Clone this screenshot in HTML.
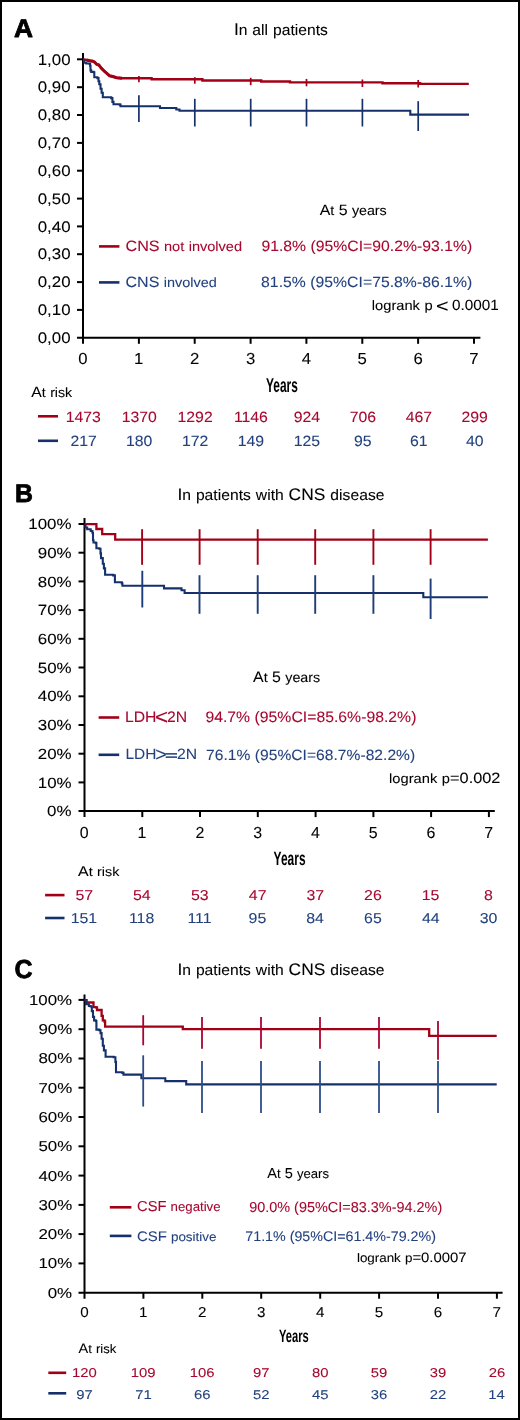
<!DOCTYPE html>
<html><head><meta charset="utf-8"><title>Kaplan-Meier curves</title>
<style>html,body{margin:0;padding:0;background:#fff;width:520px;height:1420px;overflow:hidden;}svg text{text-rendering:geometricPrecision;}svg{filter:contrast(1)}body{font-family:"Liberation Sans", sans-serif;}</style></head><body>
<svg width="520" height="1420" viewBox="0 0 520 1420" style='display:block;font-family:"Liberation Sans", sans-serif'>
<rect x="0" y="0" width="520" height="1420" fill="#fff"/>
<rect x="1" y="1" width="518" height="1418" fill="none" stroke="#000" stroke-width="2"/>
<text transform="translate(13.94 37.30) scale(0.1)" font-size="256.5" fill="#000" stroke="#000" stroke-width="8.00" stroke-linejoin="round" textLength="190.8" lengthAdjust="spacingAndGlyphs" font-weight="bold">A</text>
<text transform="translate(233.93 34.90) scale(0.1)" font-size="169.6" fill="#000" stroke="#000" stroke-width="0.80" textLength="940.1" lengthAdjust="spacingAndGlyphs">I<tspan font-size="152.6">n</tspan> <tspan font-size="152.6">all</tspan> <tspan font-size="152.6">patients</tspan></text>
<line x1="83.0" y1="53.0" x2="83.0" y2="343.8" stroke="#000" stroke-width="2"/>
<line x1="77.0" y1="337.8" x2="480.4" y2="337.8" stroke="#000" stroke-width="2"/>
<line x1="77.0" y1="309.9" x2="83.0" y2="309.9" stroke="#000" stroke-width="2"/>
<line x1="77.0" y1="282.1" x2="83.0" y2="282.1" stroke="#000" stroke-width="2"/>
<line x1="77.0" y1="254.2" x2="83.0" y2="254.2" stroke="#000" stroke-width="2"/>
<line x1="77.0" y1="226.4" x2="83.0" y2="226.4" stroke="#000" stroke-width="2"/>
<line x1="77.0" y1="198.6" x2="83.0" y2="198.6" stroke="#000" stroke-width="2"/>
<line x1="77.0" y1="170.7" x2="83.0" y2="170.7" stroke="#000" stroke-width="2"/>
<line x1="77.0" y1="142.9" x2="83.0" y2="142.9" stroke="#000" stroke-width="2"/>
<line x1="77.0" y1="115.0" x2="83.0" y2="115.0" stroke="#000" stroke-width="2"/>
<line x1="77.0" y1="87.2" x2="83.0" y2="87.2" stroke="#000" stroke-width="2"/>
<line x1="77.0" y1="59.3" x2="83.0" y2="59.3" stroke="#000" stroke-width="2"/>
<line x1="138.9" y1="337.8" x2="138.9" y2="343.8" stroke="#000" stroke-width="2"/>
<line x1="194.7" y1="337.8" x2="194.7" y2="343.8" stroke="#000" stroke-width="2"/>
<line x1="250.6" y1="337.8" x2="250.6" y2="343.8" stroke="#000" stroke-width="2"/>
<line x1="306.4" y1="337.8" x2="306.4" y2="343.8" stroke="#000" stroke-width="2"/>
<line x1="362.3" y1="337.8" x2="362.3" y2="343.8" stroke="#000" stroke-width="2"/>
<line x1="418.1" y1="337.8" x2="418.1" y2="343.8" stroke="#000" stroke-width="2"/>
<line x1="474.0" y1="337.8" x2="474.0" y2="343.8" stroke="#000" stroke-width="2"/>
<text transform="translate(37.74 343.00) scale(0.1)" font-size="153.0" fill="#000" stroke="#000" stroke-width="0.80" textLength="327.6" lengthAdjust="spacingAndGlyphs">0,00</text>
<text transform="translate(37.74 315.15) scale(0.1)" font-size="153.0" fill="#000" stroke="#000" stroke-width="0.80" textLength="327.6" lengthAdjust="spacingAndGlyphs">0,10</text>
<text transform="translate(37.74 287.30) scale(0.1)" font-size="153.0" fill="#000" stroke="#000" stroke-width="0.80" textLength="327.6" lengthAdjust="spacingAndGlyphs">0,20</text>
<text transform="translate(37.74 259.45) scale(0.1)" font-size="153.0" fill="#000" stroke="#000" stroke-width="0.80" textLength="327.6" lengthAdjust="spacingAndGlyphs">0,30</text>
<text transform="translate(37.74 231.60) scale(0.1)" font-size="153.0" fill="#000" stroke="#000" stroke-width="0.80" textLength="327.6" lengthAdjust="spacingAndGlyphs">0,40</text>
<text transform="translate(37.74 203.75) scale(0.1)" font-size="153.0" fill="#000" stroke="#000" stroke-width="0.80" textLength="327.6" lengthAdjust="spacingAndGlyphs">0,50</text>
<text transform="translate(37.74 175.90) scale(0.1)" font-size="153.0" fill="#000" stroke="#000" stroke-width="0.80" textLength="327.6" lengthAdjust="spacingAndGlyphs">0,60</text>
<text transform="translate(37.74 148.05) scale(0.1)" font-size="153.0" fill="#000" stroke="#000" stroke-width="0.80" textLength="327.6" lengthAdjust="spacingAndGlyphs">0,70</text>
<text transform="translate(37.74 120.20) scale(0.1)" font-size="153.0" fill="#000" stroke="#000" stroke-width="0.80" textLength="327.6" lengthAdjust="spacingAndGlyphs">0,80</text>
<text transform="translate(37.74 92.35) scale(0.1)" font-size="153.0" fill="#000" stroke="#000" stroke-width="0.80" textLength="327.6" lengthAdjust="spacingAndGlyphs">0,90</text>
<text transform="translate(37.74 64.50) scale(0.1)" font-size="153.0" fill="#000" stroke="#000" stroke-width="0.80" textLength="327.6" lengthAdjust="spacingAndGlyphs">1,00</text>
<text transform="translate(78.34 364.20) scale(0.1)" font-size="160.0" fill="#000" stroke="#000" stroke-width="0.80" textLength="93.4" lengthAdjust="spacingAndGlyphs">0</text>
<text transform="translate(133.99 364.20) scale(0.1)" font-size="160.0" fill="#000" stroke="#000" stroke-width="0.80" textLength="93.4" lengthAdjust="spacingAndGlyphs">1</text>
<text transform="translate(190.05 364.20) scale(0.1)" font-size="160.0" fill="#000" stroke="#000" stroke-width="0.80" textLength="93.4" lengthAdjust="spacingAndGlyphs">2</text>
<text transform="translate(245.95 364.20) scale(0.1)" font-size="160.0" fill="#000" stroke="#000" stroke-width="0.80" textLength="93.4" lengthAdjust="spacingAndGlyphs">3</text>
<text transform="translate(301.81 364.20) scale(0.1)" font-size="160.0" fill="#000" stroke="#000" stroke-width="0.80" textLength="93.4" lengthAdjust="spacingAndGlyphs">4</text>
<text transform="translate(357.62 364.20) scale(0.1)" font-size="160.0" fill="#000" stroke="#000" stroke-width="0.80" textLength="93.4" lengthAdjust="spacingAndGlyphs">5</text>
<text transform="translate(413.44 364.20) scale(0.1)" font-size="160.0" fill="#000" stroke="#000" stroke-width="0.80" textLength="93.4" lengthAdjust="spacingAndGlyphs">6</text>
<text transform="translate(469.34 364.20) scale(0.1)" font-size="160.0" fill="#000" stroke="#000" stroke-width="0.80" textLength="93.4" lengthAdjust="spacingAndGlyphs">7</text>
<polyline points="83.0,59.3 86.6,60.0 89.7,60.8 92.8,61.2 94.7,62.3 96.6,64.2 98.9,65.0 101.2,68.1 104.3,71.2 107.4,73.8 109.7,75.8 112.8,76.5 116.6,77.7 122.0,78.3 151.6,78.3 151.6,79.3 202.4,79.3 202.4,80.5 261.2,80.5 261.2,81.5 290.0,81.5 290.0,82.4 382.5,82.4 382.5,83.2 420.0,83.2 420.0,83.9 468.8,83.9" fill="none" stroke="#a20016" stroke-width="2.4" stroke-linejoin="miter" stroke-linecap="butt"/>
<polyline points="86.6,60.0 89.7,60.8 92.8,61.2 94.7,62.3 96.6,64.2 98.9,65.0 101.2,68.1 104.3,71.2 107.4,73.8 109.7,75.8 112.8,76.5 116.6,77.7 122.0,78.3" fill="none" stroke="#a20016" stroke-width="3.0" stroke-linejoin="miter" stroke-linecap="butt"/>
<polyline points="83.0,60.5 84.3,60.5 84.3,62.7 86.2,62.7 86.2,63.5 89.3,63.5 89.3,63.8 90.1,63.8 90.1,65.8 90.5,65.8 90.5,70.4 91.2,70.4 91.2,71.9 93.5,71.9 93.5,72.3 94.3,72.3 94.3,77.3 97.4,77.3 97.4,78.1 98.5,78.1 98.5,81.2 99.3,81.2 99.3,84.2 100.5,84.2 100.5,88.8 101.6,88.8 101.6,92.7 102.8,92.7 102.8,97.3 111.2,97.3 111.2,98.1 112.4,98.1 112.4,101.9 113.5,101.9 113.5,104.2 119.7,104.2 119.7,104.6 120.5,104.6 120.5,106.2 160.0,106.2 160.0,108.0 176.3,108.0 176.3,109.5 179.5,109.5 179.5,110.7 410.3,110.7 410.3,114.6 469.0,114.6" fill="none" stroke="#15306b" stroke-width="2.1" stroke-linejoin="miter" stroke-linecap="butt"/>
<line x1="138.9" y1="76.1" x2="138.9" y2="82.3" stroke="#a20016" stroke-width="1.7"/>
<line x1="194.8" y1="77.2" x2="194.8" y2="83.7" stroke="#a20016" stroke-width="1.7"/>
<line x1="250.7" y1="77.8" x2="250.7" y2="85.2" stroke="#a20016" stroke-width="1.7"/>
<line x1="306.5" y1="78.9" x2="306.5" y2="86.3" stroke="#a20016" stroke-width="1.7"/>
<line x1="362.4" y1="79.5" x2="362.4" y2="87.0" stroke="#a20016" stroke-width="1.7"/>
<line x1="418.2" y1="80.0" x2="418.2" y2="87.5" stroke="#a20016" stroke-width="1.7"/>
<line x1="138.9" y1="95.2" x2="138.9" y2="122.0" stroke="#15306b" stroke-width="1.7"/>
<line x1="194.8" y1="98.8" x2="194.8" y2="126.5" stroke="#15306b" stroke-width="1.7"/>
<line x1="250.7" y1="98.8" x2="250.7" y2="126.5" stroke="#15306b" stroke-width="1.7"/>
<line x1="306.5" y1="98.8" x2="306.5" y2="126.5" stroke="#15306b" stroke-width="1.7"/>
<line x1="362.4" y1="98.8" x2="362.4" y2="126.5" stroke="#15306b" stroke-width="1.7"/>
<line x1="418.2" y1="101.2" x2="418.2" y2="131.0" stroke="#15306b" stroke-width="1.7"/>
<text transform="translate(319.72 214.60) scale(0.1)" font-size="150.7" fill="#000" stroke="#000" stroke-width="0.80" textLength="670.3" lengthAdjust="spacingAndGlyphs">A<tspan font-size="135.6">t</tspan> 5 <tspan font-size="135.6">years</tspan></text>
<line x1="99.0" y1="246.4" x2="119.4" y2="246.4" stroke="#a20016" stroke-width="2.6"/>
<line x1="99.0" y1="282.4" x2="119.4" y2="282.4" stroke="#15306b" stroke-width="2.6"/>
<text transform="translate(125.49 250.70) scale(0.1)" font-size="150.7" fill="#a6072e" stroke="#a6072e" stroke-width="0.80" textLength="1164.8" lengthAdjust="spacingAndGlyphs">CNS <tspan font-size="135.6">not</tspan> <tspan font-size="135.6">involved</tspan></text>
<text transform="translate(125.50 286.70) scale(0.1)" font-size="150.7" fill="#22417e" stroke="#22417e" stroke-width="0.80" textLength="912.8" lengthAdjust="spacingAndGlyphs">CNS <tspan font-size="135.6">involved</tspan></text>
<text transform="translate(261.39 251.00) scale(0.1)" font-size="149.3" fill="#a6072e" stroke="#a6072e" stroke-width="0.80" textLength="2108.2" lengthAdjust="spacingAndGlyphs">91.8% (95%CI=90.2%-93.1%)</text>
<text transform="translate(261.09 286.90) scale(0.1)" font-size="149.3" fill="#22417e" stroke="#22417e" stroke-width="0.80" textLength="2111.2" lengthAdjust="spacingAndGlyphs">81.5% (95%CI=75.8%-86.1%)</text>
<text transform="translate(371.82 310.00) scale(0.1)" font-size="152.0" fill="#000" stroke="#000" stroke-width="0.80" textLength="607.5" lengthAdjust="spacingAndGlyphs"><tspan font-size="136.8">logrank</tspan> <tspan font-size="136.8">p</tspan></text>
<text transform="translate(435.93 311.54) scale(0.1)" font-size="178.2" fill="#000" stroke="#000" stroke-width="0.80" textLength="125.2" lengthAdjust="spacingAndGlyphs">&lt;</text>
<text transform="translate(451.99 310.00) scale(0.1)" font-size="147.8" fill="#000" stroke="#000" stroke-width="0.80" textLength="466.5" lengthAdjust="spacingAndGlyphs">0.0001</text>
<text transform="translate(265.96 391.90) scale(0.1)" font-size="200.0" fill="#000" textLength="319.1" lengthAdjust="spacingAndGlyphs" font-weight="bold">Years</text>
<text transform="translate(31.32 396.60) scale(0.1)" font-size="149.3" fill="#000" stroke="#000" stroke-width="0.80" textLength="408.7" lengthAdjust="spacingAndGlyphs">A<tspan font-size="134.4">t</tspan> <tspan font-size="134.4">risk</tspan></text>
<line x1="38.0" y1="416.3" x2="58.0" y2="416.3" stroke="#a20016" stroke-width="2.6"/>
<line x1="38.0" y1="440.8" x2="58.0" y2="440.8" stroke="#15306b" stroke-width="2.6"/>
<text transform="translate(65.84 421.50) scale(0.1)" font-size="150.0" fill="#a6072e" stroke="#a6072e" stroke-width="0.80" textLength="350.4" lengthAdjust="spacingAndGlyphs">1473</text>
<text transform="translate(121.66 421.50) scale(0.1)" font-size="150.0" fill="#a6072e" stroke="#a6072e" stroke-width="0.80" textLength="350.4" lengthAdjust="spacingAndGlyphs">1370</text>
<text transform="translate(177.60 421.50) scale(0.1)" font-size="150.0" fill="#a6072e" stroke="#a6072e" stroke-width="0.80" textLength="350.4" lengthAdjust="spacingAndGlyphs">1292</text>
<text transform="translate(234.00 421.50) scale(0.1)" font-size="150.0" fill="#a6072e" stroke="#a6072e" stroke-width="0.80" textLength="338.7" lengthAdjust="spacingAndGlyphs">1146</text>
<text transform="translate(293.80 421.50) scale(0.1)" font-size="150.0" fill="#a6072e" stroke="#a6072e" stroke-width="0.80" textLength="262.8" lengthAdjust="spacingAndGlyphs">924</text>
<text transform="translate(349.73 421.50) scale(0.1)" font-size="150.0" fill="#a6072e" stroke="#a6072e" stroke-width="0.80" textLength="262.8" lengthAdjust="spacingAndGlyphs">706</text>
<text transform="translate(405.83 421.50) scale(0.1)" font-size="150.0" fill="#a6072e" stroke="#a6072e" stroke-width="0.80" textLength="262.8" lengthAdjust="spacingAndGlyphs">467</text>
<text transform="translate(461.45 421.50) scale(0.1)" font-size="150.0" fill="#a6072e" stroke="#a6072e" stroke-width="0.80" textLength="262.8" lengthAdjust="spacingAndGlyphs">299</text>
<text transform="translate(70.49 445.80) scale(0.1)" font-size="150.0" fill="#22417e" stroke="#22417e" stroke-width="0.80" textLength="262.8" lengthAdjust="spacingAndGlyphs">217</text>
<text transform="translate(126.07 445.80) scale(0.1)" font-size="150.0" fill="#22417e" stroke="#22417e" stroke-width="0.80" textLength="262.8" lengthAdjust="spacingAndGlyphs">180</text>
<text transform="translate(182.01 445.80) scale(0.1)" font-size="150.0" fill="#22417e" stroke="#22417e" stroke-width="0.80" textLength="262.8" lengthAdjust="spacingAndGlyphs">172</text>
<text transform="translate(237.82 445.80) scale(0.1)" font-size="150.0" fill="#22417e" stroke="#22417e" stroke-width="0.80" textLength="262.8" lengthAdjust="spacingAndGlyphs">149</text>
<text transform="translate(293.64 445.80) scale(0.1)" font-size="150.0" fill="#22417e" stroke="#22417e" stroke-width="0.80" textLength="262.8" lengthAdjust="spacingAndGlyphs">125</text>
<text transform="translate(354.10 445.80) scale(0.1)" font-size="150.0" fill="#22417e" stroke="#22417e" stroke-width="0.80" textLength="175.2" lengthAdjust="spacingAndGlyphs">95</text>
<text transform="translate(410.00 445.80) scale(0.1)" font-size="150.0" fill="#22417e" stroke="#22417e" stroke-width="0.80" textLength="175.2" lengthAdjust="spacingAndGlyphs">61</text>
<text transform="translate(465.98 445.80) scale(0.1)" font-size="150.0" fill="#22417e" stroke="#22417e" stroke-width="0.80" textLength="175.2" lengthAdjust="spacingAndGlyphs">40</text>
<text transform="translate(14.99 501.90) scale(0.1)" font-size="256.5" fill="#000" stroke="#000" stroke-width="8.00" stroke-linejoin="round" textLength="178.8" lengthAdjust="spacingAndGlyphs" font-weight="bold">B</text>
<text transform="translate(177.43 499.80) scale(0.1)" font-size="168.1" fill="#000" stroke="#000" stroke-width="0.80" textLength="2070.9" lengthAdjust="spacingAndGlyphs">I<tspan font-size="151.3">n</tspan> <tspan font-size="151.3">patients</tspan> <tspan font-size="151.3">with</tspan> CNS <tspan font-size="151.3">disease</tspan></text>
<line x1="84.5" y1="518.0" x2="84.5" y2="817.1" stroke="#000" stroke-width="2"/>
<line x1="78.5" y1="811.1" x2="494.8" y2="811.1" stroke="#000" stroke-width="2"/>
<line x1="78.5" y1="782.4" x2="84.5" y2="782.4" stroke="#000" stroke-width="2"/>
<line x1="78.5" y1="753.7" x2="84.5" y2="753.7" stroke="#000" stroke-width="2"/>
<line x1="78.5" y1="725.0" x2="84.5" y2="725.0" stroke="#000" stroke-width="2"/>
<line x1="78.5" y1="696.3" x2="84.5" y2="696.3" stroke="#000" stroke-width="2"/>
<line x1="78.5" y1="667.5" x2="84.5" y2="667.5" stroke="#000" stroke-width="2"/>
<line x1="78.5" y1="638.8" x2="84.5" y2="638.8" stroke="#000" stroke-width="2"/>
<line x1="78.5" y1="610.1" x2="84.5" y2="610.1" stroke="#000" stroke-width="2"/>
<line x1="78.5" y1="581.4" x2="84.5" y2="581.4" stroke="#000" stroke-width="2"/>
<line x1="78.5" y1="552.7" x2="84.5" y2="552.7" stroke="#000" stroke-width="2"/>
<line x1="78.5" y1="524.0" x2="84.5" y2="524.0" stroke="#000" stroke-width="2"/>
<line x1="142.3" y1="811.1" x2="142.3" y2="817.1" stroke="#000" stroke-width="2"/>
<line x1="200.0" y1="811.1" x2="200.0" y2="817.1" stroke="#000" stroke-width="2"/>
<line x1="257.8" y1="811.1" x2="257.8" y2="817.1" stroke="#000" stroke-width="2"/>
<line x1="315.6" y1="811.1" x2="315.6" y2="817.1" stroke="#000" stroke-width="2"/>
<line x1="373.4" y1="811.1" x2="373.4" y2="817.1" stroke="#000" stroke-width="2"/>
<line x1="431.1" y1="811.1" x2="431.1" y2="817.1" stroke="#000" stroke-width="2"/>
<line x1="488.9" y1="811.1" x2="488.9" y2="817.1" stroke="#000" stroke-width="2"/>
<text transform="translate(47.11 816.30) scale(0.1)" font-size="148.0" fill="#000" stroke="#000" stroke-width="0.80" textLength="243.9" lengthAdjust="spacingAndGlyphs">0%</text>
<text transform="translate(37.75 787.59) scale(0.1)" font-size="148.0" fill="#000" stroke="#000" stroke-width="0.80" textLength="337.7" lengthAdjust="spacingAndGlyphs">10%</text>
<text transform="translate(37.75 758.88) scale(0.1)" font-size="148.0" fill="#000" stroke="#000" stroke-width="0.80" textLength="337.7" lengthAdjust="spacingAndGlyphs">20%</text>
<text transform="translate(37.75 730.17) scale(0.1)" font-size="148.0" fill="#000" stroke="#000" stroke-width="0.80" textLength="337.7" lengthAdjust="spacingAndGlyphs">30%</text>
<text transform="translate(37.75 701.46) scale(0.1)" font-size="148.0" fill="#000" stroke="#000" stroke-width="0.80" textLength="337.7" lengthAdjust="spacingAndGlyphs">40%</text>
<text transform="translate(37.75 672.75) scale(0.1)" font-size="148.0" fill="#000" stroke="#000" stroke-width="0.80" textLength="337.7" lengthAdjust="spacingAndGlyphs">50%</text>
<text transform="translate(37.75 644.04) scale(0.1)" font-size="148.0" fill="#000" stroke="#000" stroke-width="0.80" textLength="337.7" lengthAdjust="spacingAndGlyphs">60%</text>
<text transform="translate(37.75 615.33) scale(0.1)" font-size="148.0" fill="#000" stroke="#000" stroke-width="0.80" textLength="337.7" lengthAdjust="spacingAndGlyphs">70%</text>
<text transform="translate(37.75 586.62) scale(0.1)" font-size="148.0" fill="#000" stroke="#000" stroke-width="0.80" textLength="337.7" lengthAdjust="spacingAndGlyphs">80%</text>
<text transform="translate(37.75 557.91) scale(0.1)" font-size="148.0" fill="#000" stroke="#000" stroke-width="0.80" textLength="337.7" lengthAdjust="spacingAndGlyphs">90%</text>
<text transform="translate(28.30 529.20) scale(0.1)" font-size="148.0" fill="#000" stroke="#000" stroke-width="0.80" textLength="431.5" lengthAdjust="spacingAndGlyphs">100%</text>
<text transform="translate(79.86 837.50) scale(0.1)" font-size="160.0" fill="#000" stroke="#000" stroke-width="0.80" textLength="89.0" lengthAdjust="spacingAndGlyphs">0</text>
<text transform="translate(137.43 837.50) scale(0.1)" font-size="160.0" fill="#000" stroke="#000" stroke-width="0.80" textLength="89.0" lengthAdjust="spacingAndGlyphs">1</text>
<text transform="translate(195.40 837.50) scale(0.1)" font-size="160.0" fill="#000" stroke="#000" stroke-width="0.80" textLength="89.0" lengthAdjust="spacingAndGlyphs">2</text>
<text transform="translate(253.21 837.50) scale(0.1)" font-size="160.0" fill="#000" stroke="#000" stroke-width="0.80" textLength="89.0" lengthAdjust="spacingAndGlyphs">3</text>
<text transform="translate(310.98 837.50) scale(0.1)" font-size="160.0" fill="#000" stroke="#000" stroke-width="0.80" textLength="89.0" lengthAdjust="spacingAndGlyphs">4</text>
<text transform="translate(368.71 837.50) scale(0.1)" font-size="160.0" fill="#000" stroke="#000" stroke-width="0.80" textLength="89.0" lengthAdjust="spacingAndGlyphs">5</text>
<text transform="translate(426.44 837.50) scale(0.1)" font-size="160.0" fill="#000" stroke="#000" stroke-width="0.80" textLength="89.0" lengthAdjust="spacingAndGlyphs">6</text>
<text transform="translate(484.25 837.50) scale(0.1)" font-size="160.0" fill="#000" stroke="#000" stroke-width="0.80" textLength="89.0" lengthAdjust="spacingAndGlyphs">7</text>
<polyline points="84.5,524.2 96.4,524.2 96.4,529.0 102.2,529.0 102.2,534.1 115.2,534.1 115.2,539.7 487.9,539.7" fill="none" stroke="#a20016" stroke-width="2.3" stroke-linejoin="miter" stroke-linecap="butt"/>
<polyline points="84.5,525.5 85.5,525.5 85.5,527.5 87.2,527.5 87.2,529.2 90.7,529.2 90.7,531.0 92.4,531.0 92.4,532.7 93.0,532.7 93.0,540.2 93.5,540.2 93.5,542.5 95.8,542.5 95.8,543.1 96.4,543.1 96.4,548.3 99.3,548.3 99.3,548.8 100.5,548.8 100.5,553.4 101.0,553.4 101.0,558.1 102.8,558.1 102.8,563.8 103.9,563.8 103.9,568.4 105.1,568.4 105.1,574.8 113.1,574.8 113.1,575.4 114.9,575.4 114.9,582.3 121.8,582.3 121.8,583.4 122.4,583.4 122.4,585.8 164.0,585.8 164.0,588.4 181.5,588.4 181.5,590.2 184.6,590.2 184.6,593.0 423.3,593.0 423.3,597.2 487.9,597.2" fill="none" stroke="#15306b" stroke-width="2.1" stroke-linejoin="miter" stroke-linecap="butt"/>
<line x1="142.1" y1="529.2" x2="142.1" y2="564.8" stroke="#a20016" stroke-width="1.9"/>
<line x1="199.6" y1="529.2" x2="199.6" y2="564.8" stroke="#a20016" stroke-width="1.9"/>
<line x1="257.7" y1="529.2" x2="257.7" y2="564.8" stroke="#a20016" stroke-width="1.9"/>
<line x1="315.2" y1="529.2" x2="315.2" y2="564.8" stroke="#a20016" stroke-width="1.9"/>
<line x1="373.4" y1="529.2" x2="373.4" y2="564.8" stroke="#a20016" stroke-width="1.9"/>
<line x1="430.6" y1="529.2" x2="430.6" y2="564.8" stroke="#a20016" stroke-width="1.9"/>
<line x1="142.3" y1="570.8" x2="142.3" y2="607.5" stroke="#1d3c79" stroke-width="1.9"/>
<line x1="199.5" y1="575.2" x2="199.5" y2="613.8" stroke="#1d3c79" stroke-width="1.9"/>
<line x1="257.7" y1="575.2" x2="257.7" y2="613.8" stroke="#1d3c79" stroke-width="1.9"/>
<line x1="315.2" y1="575.2" x2="315.2" y2="613.8" stroke="#1d3c79" stroke-width="1.9"/>
<line x1="373.4" y1="575.2" x2="373.4" y2="613.8" stroke="#1d3c79" stroke-width="1.9"/>
<line x1="430.6" y1="578.6" x2="430.6" y2="619.0" stroke="#1d3c79" stroke-width="1.9"/>
<text transform="translate(253.12 681.80) scale(0.1)" font-size="152.2" fill="#000" stroke="#000" stroke-width="0.80" textLength="670.3" lengthAdjust="spacingAndGlyphs">A<tspan font-size="137.0">t</tspan> 5 <tspan font-size="137.0">years</tspan></text>
<line x1="98.6" y1="717.5" x2="119.2" y2="717.5" stroke="#a20016" stroke-width="2.6"/>
<line x1="98.6" y1="754.8" x2="119.2" y2="754.8" stroke="#15306b" stroke-width="2.6"/>
<text transform="translate(125.04 722.20) scale(0.1)" font-size="153.6" fill="#a6072e" stroke="#a6072e" stroke-width="0.80" textLength="314.2" lengthAdjust="spacingAndGlyphs">LDH</text>
<text transform="translate(155.09 723.79) scale(0.1)" font-size="211.9" fill="#a6072e" stroke="#a6072e" stroke-width="0.80" textLength="130.0" lengthAdjust="spacingAndGlyphs">&lt;</text>
<text transform="translate(167.01 722.20) scale(0.1)" font-size="153.6" fill="#a6072e" stroke="#a6072e" stroke-width="0.80" textLength="201.0" lengthAdjust="spacingAndGlyphs">2N</text>
<text transform="translate(125.46 759.20) scale(0.1)" font-size="150.7" fill="#22417e" stroke="#22417e" stroke-width="0.80" textLength="309.9" lengthAdjust="spacingAndGlyphs">LDH</text>
<text transform="translate(155.21 760.57) scale(0.1)" font-size="196.0" fill="#22417e" stroke="#22417e" stroke-width="0.80" textLength="115.6" lengthAdjust="spacingAndGlyphs">&gt;</text>
<text transform="translate(165.11 759.54) scale(0.1)" font-size="137.5" fill="#22417e" stroke="#22417e" stroke-width="4.30" textLength="127.6" lengthAdjust="spacingAndGlyphs" stroke-linejoin="miter">=</text>
<text transform="translate(177.01 759.20) scale(0.1)" font-size="150.7" fill="#22417e" stroke="#22417e" stroke-width="0.80" textLength="201.0" lengthAdjust="spacingAndGlyphs">2N</text>
<text transform="translate(205.39 722.40) scale(0.1)" font-size="152.2" fill="#a6072e" stroke="#a6072e" stroke-width="0.80" textLength="2110.2" lengthAdjust="spacingAndGlyphs">94.7% (95%CI=85.6%-98.2%)</text>
<text transform="translate(206.12 759.60) scale(0.1)" font-size="149.3" fill="#22417e" stroke="#22417e" stroke-width="0.80" textLength="2090.8" lengthAdjust="spacingAndGlyphs">76.1% (95%CI=68.7%-82.2%)</text>
<text transform="translate(389.02 782.60) scale(0.1)" font-size="149.3" fill="#000" stroke="#000" stroke-width="0.80" textLength="1114.2" lengthAdjust="spacingAndGlyphs"><tspan font-size="134.4">logrank</tspan> <tspan font-size="134.4">p</tspan>=0.002</text>
<text transform="translate(273.56 864.90) scale(0.1)" font-size="194.2" fill="#000" textLength="320.1" lengthAdjust="spacingAndGlyphs" font-weight="bold">Years</text>
<text transform="translate(78.02 876.30) scale(0.1)" font-size="142.0" fill="#000" stroke="#000" stroke-width="0.80" textLength="413.7" lengthAdjust="spacingAndGlyphs">A<tspan font-size="127.8">t</tspan> <tspan font-size="127.8">risk</tspan></text>
<line x1="45.1" y1="895.1" x2="64.5" y2="895.1" stroke="#a20016" stroke-width="2.6"/>
<line x1="45.1" y1="918.0" x2="64.5" y2="918.0" stroke="#15306b" stroke-width="2.6"/>
<text transform="translate(75.39 899.60) scale(0.1)" font-size="144.0" fill="#a6072e" stroke="#a6072e" stroke-width="0.80" textLength="176.2" lengthAdjust="spacingAndGlyphs">57</text>
<text transform="translate(133.00 899.60) scale(0.1)" font-size="144.0" fill="#a6072e" stroke="#a6072e" stroke-width="0.80" textLength="176.2" lengthAdjust="spacingAndGlyphs">54</text>
<text transform="translate(190.89 899.60) scale(0.1)" font-size="144.0" fill="#a6072e" stroke="#a6072e" stroke-width="0.80" textLength="176.2" lengthAdjust="spacingAndGlyphs">53</text>
<text transform="translate(248.82 899.60) scale(0.1)" font-size="144.0" fill="#a6072e" stroke="#a6072e" stroke-width="0.80" textLength="176.2" lengthAdjust="spacingAndGlyphs">47</text>
<text transform="translate(306.47 899.60) scale(0.1)" font-size="144.0" fill="#a6072e" stroke="#a6072e" stroke-width="0.80" textLength="176.2" lengthAdjust="spacingAndGlyphs">37</text>
<text transform="translate(364.12 899.60) scale(0.1)" font-size="144.0" fill="#a6072e" stroke="#a6072e" stroke-width="0.80" textLength="176.2" lengthAdjust="spacingAndGlyphs">26</text>
<text transform="translate(421.65 899.60) scale(0.1)" font-size="144.0" fill="#a6072e" stroke="#a6072e" stroke-width="0.80" textLength="176.2" lengthAdjust="spacingAndGlyphs">15</text>
<text transform="translate(484.05 899.60) scale(0.1)" font-size="144.0" fill="#a6072e" stroke="#a6072e" stroke-width="0.80" textLength="88.1" lengthAdjust="spacingAndGlyphs">8</text>
<text transform="translate(70.72 923.00) scale(0.1)" font-size="144.0" fill="#22417e" stroke="#22417e" stroke-width="0.80" textLength="264.3" lengthAdjust="spacingAndGlyphs">151</text>
<text transform="translate(128.96 923.00) scale(0.1)" font-size="144.0" fill="#22417e" stroke="#22417e" stroke-width="0.80" textLength="252.5" lengthAdjust="spacingAndGlyphs">118</text>
<text transform="translate(187.40 923.00) scale(0.1)" font-size="144.0" fill="#22417e" stroke="#22417e" stroke-width="0.80" textLength="240.8" lengthAdjust="spacingAndGlyphs">111</text>
<text transform="translate(248.58 923.00) scale(0.1)" font-size="144.0" fill="#22417e" stroke="#22417e" stroke-width="0.80" textLength="176.2" lengthAdjust="spacingAndGlyphs">95</text>
<text transform="translate(306.27 923.00) scale(0.1)" font-size="144.0" fill="#22417e" stroke="#22417e" stroke-width="0.80" textLength="176.2" lengthAdjust="spacingAndGlyphs">84</text>
<text transform="translate(364.08 923.00) scale(0.1)" font-size="144.0" fill="#22417e" stroke="#22417e" stroke-width="0.80" textLength="176.2" lengthAdjust="spacingAndGlyphs">65</text>
<text transform="translate(421.97 923.00) scale(0.1)" font-size="144.0" fill="#22417e" stroke="#22417e" stroke-width="0.80" textLength="176.2" lengthAdjust="spacingAndGlyphs">44</text>
<text transform="translate(479.70 923.00) scale(0.1)" font-size="144.0" fill="#22417e" stroke="#22417e" stroke-width="0.80" textLength="176.2" lengthAdjust="spacingAndGlyphs">30</text>
<text transform="translate(14.40 977.60) scale(0.1)" font-size="260.9" fill="#000" stroke="#000" stroke-width="8.00" stroke-linejoin="round" textLength="179.7" lengthAdjust="spacingAndGlyphs" font-weight="bold">C</text>
<text transform="translate(177.43 974.80) scale(0.1)" font-size="168.1" fill="#000" stroke="#000" stroke-width="0.80" textLength="2070.9" lengthAdjust="spacingAndGlyphs">I<tspan font-size="151.3">n</tspan> <tspan font-size="151.3">patients</tspan> <tspan font-size="151.3">with</tspan> CNS <tspan font-size="151.3">disease</tspan></text>
<line x1="84.5" y1="994.5" x2="84.5" y2="1298.7" stroke="#000" stroke-width="2"/>
<line x1="78.5" y1="1292.7" x2="502.6" y2="1292.7" stroke="#000" stroke-width="2"/>
<line x1="78.5" y1="1263.4" x2="84.5" y2="1263.4" stroke="#000" stroke-width="2"/>
<line x1="78.5" y1="1234.1" x2="84.5" y2="1234.1" stroke="#000" stroke-width="2"/>
<line x1="78.5" y1="1204.9" x2="84.5" y2="1204.9" stroke="#000" stroke-width="2"/>
<line x1="78.5" y1="1175.6" x2="84.5" y2="1175.6" stroke="#000" stroke-width="2"/>
<line x1="78.5" y1="1146.3" x2="84.5" y2="1146.3" stroke="#000" stroke-width="2"/>
<line x1="78.5" y1="1117.0" x2="84.5" y2="1117.0" stroke="#000" stroke-width="2"/>
<line x1="78.5" y1="1087.7" x2="84.5" y2="1087.7" stroke="#000" stroke-width="2"/>
<line x1="78.5" y1="1058.5" x2="84.5" y2="1058.5" stroke="#000" stroke-width="2"/>
<line x1="78.5" y1="1029.2" x2="84.5" y2="1029.2" stroke="#000" stroke-width="2"/>
<line x1="78.5" y1="999.9" x2="84.5" y2="999.9" stroke="#000" stroke-width="2"/>
<line x1="143.4" y1="1292.7" x2="143.4" y2="1298.7" stroke="#000" stroke-width="2"/>
<line x1="202.3" y1="1292.7" x2="202.3" y2="1298.7" stroke="#000" stroke-width="2"/>
<line x1="261.2" y1="1292.7" x2="261.2" y2="1298.7" stroke="#000" stroke-width="2"/>
<line x1="320.2" y1="1292.7" x2="320.2" y2="1298.7" stroke="#000" stroke-width="2"/>
<line x1="379.1" y1="1292.7" x2="379.1" y2="1298.7" stroke="#000" stroke-width="2"/>
<line x1="438.0" y1="1292.7" x2="438.0" y2="1298.7" stroke="#000" stroke-width="2"/>
<line x1="496.9" y1="1292.7" x2="496.9" y2="1298.7" stroke="#000" stroke-width="2"/>
<text transform="translate(47.74 1297.70) scale(0.1)" font-size="144.0" fill="#000" stroke="#000" stroke-width="0.80" textLength="243.5" lengthAdjust="spacingAndGlyphs">0%</text>
<text transform="translate(38.39 1268.42) scale(0.1)" font-size="144.0" fill="#000" stroke="#000" stroke-width="0.80" textLength="337.2" lengthAdjust="spacingAndGlyphs">10%</text>
<text transform="translate(38.39 1239.14) scale(0.1)" font-size="144.0" fill="#000" stroke="#000" stroke-width="0.80" textLength="337.2" lengthAdjust="spacingAndGlyphs">20%</text>
<text transform="translate(38.39 1209.86) scale(0.1)" font-size="144.0" fill="#000" stroke="#000" stroke-width="0.80" textLength="337.2" lengthAdjust="spacingAndGlyphs">30%</text>
<text transform="translate(38.39 1180.58) scale(0.1)" font-size="144.0" fill="#000" stroke="#000" stroke-width="0.80" textLength="337.2" lengthAdjust="spacingAndGlyphs">40%</text>
<text transform="translate(38.39 1151.30) scale(0.1)" font-size="144.0" fill="#000" stroke="#000" stroke-width="0.80" textLength="337.2" lengthAdjust="spacingAndGlyphs">50%</text>
<text transform="translate(38.39 1122.02) scale(0.1)" font-size="144.0" fill="#000" stroke="#000" stroke-width="0.80" textLength="337.2" lengthAdjust="spacingAndGlyphs">60%</text>
<text transform="translate(38.39 1092.74) scale(0.1)" font-size="144.0" fill="#000" stroke="#000" stroke-width="0.80" textLength="337.2" lengthAdjust="spacingAndGlyphs">70%</text>
<text transform="translate(38.39 1063.46) scale(0.1)" font-size="144.0" fill="#000" stroke="#000" stroke-width="0.80" textLength="337.2" lengthAdjust="spacingAndGlyphs">80%</text>
<text transform="translate(38.39 1034.18) scale(0.1)" font-size="144.0" fill="#000" stroke="#000" stroke-width="0.80" textLength="337.2" lengthAdjust="spacingAndGlyphs">90%</text>
<text transform="translate(28.96 1004.90) scale(0.1)" font-size="144.0" fill="#000" stroke="#000" stroke-width="0.80" textLength="430.9" lengthAdjust="spacingAndGlyphs">100%</text>
<text transform="translate(80.20 1317.10) scale(0.1)" font-size="144.0" fill="#000" stroke="#000" stroke-width="0.80" textLength="84.1" lengthAdjust="spacingAndGlyphs">0</text>
<text transform="translate(138.93 1317.10) scale(0.1)" font-size="144.0" fill="#000" stroke="#000" stroke-width="0.80" textLength="84.1" lengthAdjust="spacingAndGlyphs">1</text>
<text transform="translate(198.03 1317.10) scale(0.1)" font-size="144.0" fill="#000" stroke="#000" stroke-width="0.80" textLength="84.1" lengthAdjust="spacingAndGlyphs">2</text>
<text transform="translate(256.98 1317.10) scale(0.1)" font-size="144.0" fill="#000" stroke="#000" stroke-width="0.80" textLength="84.1" lengthAdjust="spacingAndGlyphs">3</text>
<text transform="translate(315.90 1317.10) scale(0.1)" font-size="144.0" fill="#000" stroke="#000" stroke-width="0.80" textLength="84.1" lengthAdjust="spacingAndGlyphs">4</text>
<text transform="translate(374.77 1317.10) scale(0.1)" font-size="144.0" fill="#000" stroke="#000" stroke-width="0.80" textLength="84.1" lengthAdjust="spacingAndGlyphs">5</text>
<text transform="translate(433.65 1317.10) scale(0.1)" font-size="144.0" fill="#000" stroke="#000" stroke-width="0.80" textLength="84.1" lengthAdjust="spacingAndGlyphs">6</text>
<text transform="translate(492.60 1317.10) scale(0.1)" font-size="144.0" fill="#000" stroke="#000" stroke-width="0.80" textLength="84.1" lengthAdjust="spacingAndGlyphs">7</text>
<polyline points="84.5,1000.2 86.6,1000.2 86.6,1002.5 93.0,1002.5 93.5,1002.5 93.5,1007.1 96.4,1007.1 96.4,1007.7 97.0,1007.7 97.0,1010.0 99.9,1010.0 101.6,1010.0 101.6,1015.8 102.8,1015.8 102.8,1020.4 104.5,1020.4 104.5,1021.5 105.1,1021.5 105.1,1026.6 182.8,1026.6 182.8,1029.1 429.2,1029.1 429.2,1035.8 496.7,1035.8" fill="none" stroke="#a20016" stroke-width="2.3" stroke-linejoin="miter" stroke-linecap="butt"/>
<polyline points="84.5,1000.2 86.0,1000.2 86.0,1004.2 88.9,1004.2 88.9,1006.0 90.7,1006.0 90.7,1006.5 91.8,1006.5 91.8,1011.1 93.0,1011.1 93.0,1016.9 94.1,1016.9 94.1,1020.4 95.8,1020.4 95.8,1021.0 96.4,1021.0 96.4,1029.6 99.3,1029.6 99.3,1030.2 100.5,1030.2 100.5,1033.1 101.6,1033.1 101.6,1038.8 102.8,1038.8 102.8,1045.7 103.9,1045.7 103.9,1050.4 105.6,1050.4 105.6,1056.7 113.7,1056.7 113.7,1057.3 115.4,1057.3 115.4,1061.9 116.0,1061.9 116.0,1072.3 122.4,1072.3 122.4,1072.9 123.5,1072.9 123.5,1074.6 141.4,1074.6 141.4,1078.2 165.3,1078.2 165.3,1081.1 186.2,1081.1 186.2,1084.4 496.7,1084.4" fill="none" stroke="#15306b" stroke-width="2.1" stroke-linejoin="miter" stroke-linecap="butt"/>
<line x1="143.2" y1="1015.2" x2="143.2" y2="1045.3" stroke="#aa0432" stroke-width="1.8"/>
<line x1="202.0" y1="1017.0" x2="202.0" y2="1048.8" stroke="#aa0432" stroke-width="1.8"/>
<line x1="261.0" y1="1017.0" x2="261.0" y2="1048.8" stroke="#aa0432" stroke-width="1.8"/>
<line x1="320.0" y1="1017.0" x2="320.0" y2="1048.8" stroke="#aa0432" stroke-width="1.8"/>
<line x1="379.0" y1="1017.0" x2="379.0" y2="1048.8" stroke="#aa0432" stroke-width="1.8"/>
<line x1="438.0" y1="1021.0" x2="438.0" y2="1059.8" stroke="#aa0432" stroke-width="1.8"/>
<line x1="143.2" y1="1055.3" x2="143.2" y2="1106.6" stroke="#2d4d86" stroke-width="1.8"/>
<line x1="202.0" y1="1061.0" x2="202.0" y2="1113.0" stroke="#2d4d86" stroke-width="1.8"/>
<line x1="261.0" y1="1061.0" x2="261.0" y2="1113.0" stroke="#2d4d86" stroke-width="1.8"/>
<line x1="320.0" y1="1061.0" x2="320.0" y2="1113.0" stroke="#2d4d86" stroke-width="1.8"/>
<line x1="379.0" y1="1061.0" x2="379.0" y2="1113.0" stroke="#2d4d86" stroke-width="1.8"/>
<line x1="438.0" y1="1061.0" x2="438.0" y2="1113.0" stroke="#2d4d86" stroke-width="1.8"/>
<text transform="translate(267.33 1177.80) scale(0.1)" font-size="144.9" fill="#000" stroke="#000" stroke-width="0.80" textLength="616.8" lengthAdjust="spacingAndGlyphs">A<tspan font-size="130.4">t</tspan> 5 <tspan font-size="130.4">years</tspan></text>
<line x1="109.8" y1="1207.3" x2="131.4" y2="1207.3" stroke="#a20016" stroke-width="2.6"/>
<line x1="109.8" y1="1235.9" x2="131.4" y2="1235.9" stroke="#15306b" stroke-width="2.6"/>
<text transform="translate(137.06 1211.40) scale(0.1)" font-size="144.9" fill="#a6072e" stroke="#a6072e" stroke-width="0.80" textLength="835.3" lengthAdjust="spacingAndGlyphs">CSF <tspan font-size="130.4">negative</tspan></text>
<text transform="translate(137.06 1241.00) scale(0.1)" font-size="139.1" fill="#22417e" stroke="#22417e" stroke-width="0.80" textLength="793.3" lengthAdjust="spacingAndGlyphs">CSF <tspan font-size="125.2">positive</tspan></text>
<text transform="translate(249.15 1211.50) scale(0.1)" font-size="144.9" fill="#a6072e" stroke="#a6072e" stroke-width="0.80" textLength="1930.7" lengthAdjust="spacingAndGlyphs">90.0% (95%CI=83.3%-94.2%)</text>
<text transform="translate(245.29 1240.80) scale(0.1)" font-size="140.6" fill="#22417e" stroke="#22417e" stroke-width="0.80" textLength="1906.2" lengthAdjust="spacingAndGlyphs">71.1% (95%CI=61.4%-79.2%)</text>
<text transform="translate(356.91 1262.20) scale(0.1)" font-size="137.7" fill="#000" stroke="#000" stroke-width="0.80" textLength="1096.8" lengthAdjust="spacingAndGlyphs"><tspan font-size="123.9">logrank</tspan> <tspan font-size="123.9">p</tspan>=0.0007</text>
<text transform="translate(278.98 1342.30) scale(0.1)" font-size="178.3" fill="#000" textLength="296.6" lengthAdjust="spacingAndGlyphs" font-weight="bold">Years</text>
<text transform="translate(78.53 1352.60) scale(0.1)" font-size="139.1" fill="#000" stroke="#000" stroke-width="0.80" textLength="377.7" lengthAdjust="spacingAndGlyphs">A<tspan font-size="125.2">t</tspan> <tspan font-size="125.2">risk</tspan></text>
<line x1="48.3" y1="1372.8" x2="66.2" y2="1372.8" stroke="#a20016" stroke-width="2.6"/>
<line x1="48.3" y1="1393.3" x2="66.2" y2="1393.3" stroke="#15306b" stroke-width="2.6"/>
<text transform="translate(71.89 1377.00) scale(0.1)" font-size="129.0" fill="#a6072e" stroke="#a6072e" stroke-width="0.80" textLength="247.5" lengthAdjust="spacingAndGlyphs">120</text>
<text transform="translate(130.84 1377.00) scale(0.1)" font-size="129.0" fill="#a6072e" stroke="#a6072e" stroke-width="0.80" textLength="247.5" lengthAdjust="spacingAndGlyphs">109</text>
<text transform="translate(189.76 1377.00) scale(0.1)" font-size="129.0" fill="#a6072e" stroke="#a6072e" stroke-width="0.80" textLength="247.5" lengthAdjust="spacingAndGlyphs">106</text>
<text transform="translate(253.05 1377.00) scale(0.1)" font-size="129.0" fill="#a6072e" stroke="#a6072e" stroke-width="0.80" textLength="165.0" lengthAdjust="spacingAndGlyphs">97</text>
<text transform="translate(311.89 1377.00) scale(0.1)" font-size="129.0" fill="#a6072e" stroke="#a6072e" stroke-width="0.80" textLength="165.0" lengthAdjust="spacingAndGlyphs">80</text>
<text transform="translate(370.87 1377.00) scale(0.1)" font-size="129.0" fill="#a6072e" stroke="#a6072e" stroke-width="0.80" textLength="165.0" lengthAdjust="spacingAndGlyphs">59</text>
<text transform="translate(429.79 1377.00) scale(0.1)" font-size="129.0" fill="#a6072e" stroke="#a6072e" stroke-width="0.80" textLength="165.0" lengthAdjust="spacingAndGlyphs">39</text>
<text transform="translate(488.63 1377.00) scale(0.1)" font-size="129.0" fill="#a6072e" stroke="#a6072e" stroke-width="0.80" textLength="165.0" lengthAdjust="spacingAndGlyphs">26</text>
<text transform="translate(76.30 1398.50) scale(0.1)" font-size="129.0" fill="#22417e" stroke="#22417e" stroke-width="0.80" textLength="165.0" lengthAdjust="spacingAndGlyphs">97</text>
<text transform="translate(135.18 1398.50) scale(0.1)" font-size="129.0" fill="#22417e" stroke="#22417e" stroke-width="0.80" textLength="165.0" lengthAdjust="spacingAndGlyphs">71</text>
<text transform="translate(194.06 1398.50) scale(0.1)" font-size="129.0" fill="#22417e" stroke="#22417e" stroke-width="0.80" textLength="165.0" lengthAdjust="spacingAndGlyphs">66</text>
<text transform="translate(253.08 1398.50) scale(0.1)" font-size="129.0" fill="#22417e" stroke="#22417e" stroke-width="0.80" textLength="165.0" lengthAdjust="spacingAndGlyphs">52</text>
<text transform="translate(312.03 1398.50) scale(0.1)" font-size="129.0" fill="#22417e" stroke="#22417e" stroke-width="0.80" textLength="165.0" lengthAdjust="spacingAndGlyphs">45</text>
<text transform="translate(370.87 1398.50) scale(0.1)" font-size="129.0" fill="#22417e" stroke="#22417e" stroke-width="0.80" textLength="165.0" lengthAdjust="spacingAndGlyphs">36</text>
<text transform="translate(429.75 1398.50) scale(0.1)" font-size="129.0" fill="#22417e" stroke="#22417e" stroke-width="0.80" textLength="165.0" lengthAdjust="spacingAndGlyphs">22</text>
<text transform="translate(488.33 1398.50) scale(0.1)" font-size="129.0" fill="#22417e" stroke="#22417e" stroke-width="0.80" textLength="165.0" lengthAdjust="spacingAndGlyphs">14</text>
</svg>
</body></html>
